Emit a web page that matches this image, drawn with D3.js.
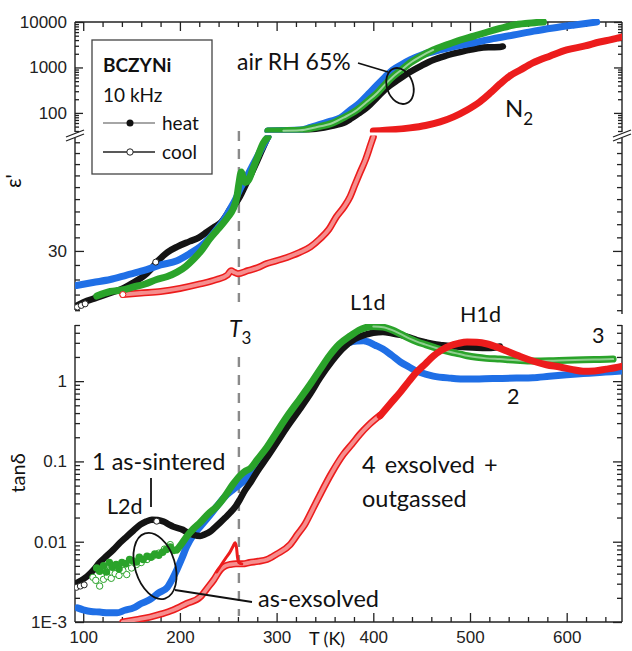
<!DOCTYPE html>
<html><head><meta charset="utf-8">
<script src="https://cdn.jsdelivr.net/npm/d3@7/dist/d3.min.js"></script>
<style>
html,body{margin:0;padding:0;background:#fff;}
svg{display:block;}
</style></head>
<body>
<svg id="chart" width="632" height="651"></svg>
<script>
// ---------------- DATA ----------------
const xMajorTicks = [100, 200, 300, 400, 500, 600];
const xMinorTicks = [100,120,140,160,180,200,220,240,260,280,300,320,340,360,380,400,420,440,460,480,500,520,540,560,580,600,620,640];
const epsHighTickValues = [100, 1000, 10000];
const epsHighTickLabels = ["100", "1000", "10000"];
const epsLowTickValues = [30];
const epsLowTickLabels = ["30"];
const epsLowMinor = [26,27,28,29,31,32,33,34,35,36,37,38,39];
const tanTickValues = [0.001, 0.01, 0.1, 1];
const tanTickLabels = ["1E-3", "0.01", "0.1", "1"];
const T3 = 261;

// epsilon' (top panel) [T (K), eps']
const epsBlack = [[94,26.3],[100,26.5],[114,26.8],[128,27.1],[141,27.4],[152,27.8],[162,28.2],[170,28.7],[176,29.2],[182,29.6],[187,29.9],[197,30.3],[210,30.7],[220,31.0],[228,31.4],[236,31.8],[242,32.1],[248,32.7],[252,33.2],[258,33.7],[262,34.2],[268,35.2],[273,36.0],[279,37.1],[285,38.3],[291,39.5],
  [291,40],[310,40.6],[324,41.2],[335,43],[344,46],[355,51],[362,55],[369,60],[377,75],[385,98],[394,135],[404,220],[414,354],[426,540],[438,796],[450,1100],[462,1462],[474,1780],[486,2084],[498,2400],[510,2683],[520,2780],[531,2822],[534,2900]];
const epsBlue = [[93,27.6],[110,27.8],[128,28.0],[145,28.3],[162,28.6],[180,29.0],[197,29.3],[210,29.8],[221,30.3],[230,30.9],[238,31.6],[245,32.3],[252,33.2],[257,33.9],[262,34.8],[268,35.7],[273,36.5],[279,37.5],[285,38.5],[291,39.5],
  [291,40],[305,40.8],[324,42],[335,48],[345,56],[356,66],[366,78],[376,115],[386,166],[395,260],[404,412],[412,610],[420,881],[429,1150],[438,1462],[452,1950],[469,2427],[486,2950],[503,3455],[524,4300],[545,5176],[566,6300],[586,7379],[608,8600],[631,10000]];
const epsGreen = [[114,26.9],[128,27.2],[140,27.3],[152,27.5],[164,27.7],[176,28.0],[187,28.2],[197,28.5],[206,28.9],[214,29.4],[223,30.1],[231,30.9],[238,31.5],[245,32.1],[250,32.6],[255,33.2],[259,34.2],[261,35.3],[263.5,36.3],[265.5,35.8],[267.5,35.4],[271,35.6],[276,36.7],[281,37.8],[286,38.9],[291,39.5],
  [291,40],[307,40.6],[324,41.5],[340,48],[358,60],[370,80],[383,116],[394,180],[404,275],[412,420],[420,618],[429,880],[438,1256],[450,1800],[462,2427],[476,3150],[490,4018],[504,4900],[518,6026],[531,7200],[545,8590],[560,9400],[576,10000]];
const epsRedCool = [[141,27.0],[160,27.1],[180,27.2],[200,27.4],[221,27.7],[238,28.0],[249,28.3],[253,28.6],[256,28.5],[260,28.4],[270,28.6],[280,28.8],[290,29.1],[305,29.4],[324,29.9],[335,30.3],[345,30.9],[354,31.6],[362,32.6],[370,33.4],[376,34.2],[381,35.2],[386,36.2],[392,37.4],[397,38.7],[400,39.5]];
const epsRedHeat = [[400,40],[407,40.5],[420,42.5],[438,46.8],[454,53],[469,63.4],[483,82],[497,116],[510,174],[521,275],[531,433],[541,648],[552,881],[565,1256],[583,1790],[600,2427],[619,2971],[634,3631],[646,4100],[657,4677]];
const epsBlackCoolDots = [[94,26.2],[98,26.3],[102,26.4],[175,29.2]];
const epsRedCoolDots = [[141,27.0]];

// tan delta (bottom panel) [T (K), tan d]
const tanBlack = [[94,.0031],[104,.0037],[111,.0045],[117,.0055],[124,.0066],[131,.0079],[138,.0097],[145,.0116],[152,.0138],[159,.0163],[165,.0178],[171,.0188],[177,.0186],[183,.0178],[188,.0166],[193,.0154],[203,.0141],[208,.0130],[214,.0122],[221,.0118],[226,.0124],[231,.0133],[236,.0150],[241.6,.0173],[247,.0200],[252,.023],[258,.028],[262,.0335],[267,.043],[273,.0546],[280,.075],[290,.112],[300,.17],[312,.28],[324,.447],[335,.70],[345,1.10],[357,1.75],[368,2.51],[381,3.35],[391,3.76],[400,4.0],[410,4.1],[419,3.95],[428,3.76],[437,3.5],[445,3.25],[454,3.05],[462,2.9],[471,2.8],[480,2.72],[489,2.68],[497,2.64],[507,2.6],[517,2.58],[526,2.62],[531,2.7]];
const tanBlue = [[94,.0015],[100,.00142],[108,.00135],[117,.00133],[126,.0013],[135,.0013],[143,.0014],[152,.0015],[160,.0017],[169,.0019],[178,.0023],[187,.0027],[192,.0034],[197,.0045],[202,.0062],[207,.0087],[214,.0122],[221,.0154],[229,.020],[238,.0274],[246,.036],[255,.0447],[262,.052],[268,.06],[278,.084],[290,.13],[300,.19],[312,.31],[324,.50],[335,.80],[345,1.30],[355,1.9],[365,2.5],[374,2.98],[383,3.16],[390,3.18],[394,3.1],[402,2.8],[410,2.51],[419,2.1],[428,1.73],[437,1.5],[445,1.33],[454,1.22],[462,1.155],[480,1.09],[497,1.06],[515,1.07],[531,1.08],[548,1.09],[565,1.10],[582,1.15],[600,1.20],[617,1.24],[634,1.28],[646,1.31],[658,1.34]];
const tanGreen = [[197,.0079],[202,.0095],[207,.0116],[214,.0145],[221,.0173],[229,.022],[238,.0274],[246,.036],[255,.052],[262,.066],[268,.076],[273,.082],[280,.105],[290,.15],[300,.23],[312,.38],[324,.60],[335,.92],[345,1.4],[355,2.1],[365,2.9],[376,3.65],[385,4.3],[392,4.65],[400,4.8],[410,4.7],[419,4.35],[428,3.87],[437,3.4],[445,3.1],[454,2.85],[462,2.65],[471,2.45],[480,2.3],[489,2.18],[497,2.07],[507,1.98],[517,1.92],[531,1.88],[548,1.82],[565,1.78],[582,1.79],[600,1.82],[617,1.84],[634,1.86],[648,1.88]];
const tanGreenHeatDots = [[114,.0047],[117,.0043],[121,.0050],[124,.0042],[127,.0055],[130,.0048],[134,.0052],[137,.0046],[140,.0055],[144,.0053],[148,.0060],[151,.0058],[155,.0056],[158,.0064],[162,.0060],[166,.0066],[170,.0064],[174,.0070],[178,.0068],[182,.0074],[186,.0080],[190,.0086],[194,.0078]];
const tanGreenCoolDots = [[110,.0036],[113,.0033],[117,.0028],[121,.0034],[125,.0037],[129,.0035],[133,.0040],[137,.0038],[141,.0044],[145,.0039],[150,.0047],[155,.0052],[160,.0055],[166,.0060],[172,.0066],[178,.0072],[184,.0081],[190,.0092]];
const tanBlackCoolDots = [[93,.0027],[97,.0028],[101,.0029],[176,.0180]];
const tanRedCool = [[141,.00100],[155,.00107],[169,.00115],[181,.00126],[193,.00141],[207,.00170],[221,.00205],[229,.0027],[235,.00335],[242,.0045],[247,.0050],[252,.0052],[258,.0053],[265,.0053],[272,.0055],[281,.0057],[290,.0060],[300,.0070],[314,.0092],[322,.0125],[329,.0163],[337,.025],[345,.0387],[357,.072],[369,.122],[378,.165],[386,.217],[396,.29],[407,.376]];
const tanRedSpike = [[238,.0042],[243,.0052],[248,.0064],[252,.0075],[255,.0088],[257,.0097],[258.5,.0085],[259.5,.0065],[261,.0055],[264,.0053]];
const tanRedHeat = [[407,.37],[418,.53],[428,.729],[437,1.0],[445,1.30],[454,1.65],[462,2.05],[471,2.45],[479,2.74],[488,2.95],[497,3.07],[507,3.05],[518,2.9],[528,2.65],[538,2.37],[551,2.05],[565,1.78],[579,1.6],[593,1.50],[605,1.4],[617,1.33],[629,1.34],[641,1.41],[650,1.47],[658,1.54]];

// ---------------- LAYOUT ----------------
const C = {black:"#141414", blue:"#1f6fe6", green:"#2aa32a", red:"#ec1c1c"};
const svg = d3.select("#chart");
const L = 75, R = 622;
const x = d3.scaleLinear().domain([91.5, 657.2]).range([L, R]);
const yHigh = d3.scaleLog().domain([40, 10000]).range([131, 22]);
const yLow = d3.scaleLog().domain([25.7, 39.5]).range([315, 137]);
const yTan = d3.scaleLog().domain([0.001, 5]).range([622, 325]);
const tickFont = "'Liberation Sans', Arial, sans-serif";
const annFont = "Lato, 'Open Sans', sans-serif";

const defs = svg.append("defs");
function clip(id, y0, y1){ defs.append("clipPath").attr("id", id).append("rect").attr("x", L).attr("y", y0).attr("width", R-L).attr("height", y1-y0); }
clip("cHigh", 19, 132.5);
clip("cLow", 135.5, 312);
clip("cTan", 324, 622);

function styleAxis(g){ g.select(".domain").remove(); g.selectAll("line").attr("stroke","#222").attr("stroke-width",1.3); g.selectAll("text").attr("font-family",tickFont).attr("font-size",17).attr("fill","#222"); }
function logMinor(lo, hi){ const out=[]; for(let e=-4;e<=5;e++){ for(let m=2;m<=9;m++){ const v=m*Math.pow(10,e); if(v>=lo*0.999 && v<=hi*1.001) out.push(v);} } return out; }

// ---- top panel frame & axes ----
svg.append("g").attr("transform",`translate(0,22)`).call(d3.axisTop(x).tickValues(xMajorTicks).tickSize(-9).tickFormat("")).call(styleAxis);
svg.append("g").attr("transform",`translate(0,22)`).call(d3.axisTop(x).tickValues(xMinorTicks.filter(v=>!xMajorTicks.includes(v))).tickSize(-5).tickFormat("")).call(styleAxis);
[[L, d3.axisLeft, -1],[R, d3.axisRight, 1]].forEach(([xx, ax, s])=>{
  const lab = s<0;
  svg.append("g").attr("transform",`translate(${xx},0)`).call(ax(yHigh).tickValues(epsHighTickValues).tickSize(-8).tickPadding(8).tickFormat((d,i)=> lab? epsHighTickLabels[i] : "")).call(styleAxis);
  svg.append("g").attr("transform",`translate(${xx},0)`).call(ax(yHigh).tickValues(logMinor(40,10000)).tickSize(-4).tickFormat("")).call(styleAxis);
  svg.append("g").attr("transform",`translate(${xx},0)`).call(ax(yLow).tickValues(epsLowTickValues).tickSize(-9).tickPadding(8).tickFormat((d,i)=> lab? epsLowTickLabels[i] : "")).call(styleAxis);
  svg.append("g").attr("transform",`translate(${xx},0)`).call(ax(yLow).tickValues(epsLowMinor).tickSize(-5).tickFormat("")).call(styleAxis);
  svg.append("line").attr("x1",xx).attr("x2",xx).attr("y1",22).attr("y2",132).attr("stroke","#222").attr("stroke-width",1.4);
  svg.append("line").attr("x1",xx).attr("x2",xx).attr("y1",138).attr("y2",s<0?310:314).attr("stroke","#222").attr("stroke-width",1.4);
  svg.append("line").attr("x1",xx-9).attr("y1",137).attr("x2",xx+9).attr("y2",130).attr("stroke","#222").attr("stroke-width",1.3);
  svg.append("line").attr("x1",xx-9).attr("y1",141).attr("x2",xx+9).attr("y2",134).attr("stroke","#222").attr("stroke-width",1.3);
});
svg.append("line").attr("x1",L).attr("x2",R).attr("y1",22).attr("y2",22).attr("stroke","#222").attr("stroke-width",1.4);

// ---- bottom panel axes ----
svg.append("g").attr("transform",`translate(0,622)`).call(d3.axisBottom(x).tickValues(xMajorTicks).tickSize(-9).tickPadding(9)).call(styleAxis);
svg.append("g").attr("transform",`translate(0,622)`).call(d3.axisBottom(x).tickValues(xMinorTicks.filter(v=>!xMajorTicks.includes(v))).tickSize(-5).tickFormat("")).call(styleAxis);
[[L, d3.axisLeft, true],[R, d3.axisRight, false]].forEach(([xx, ax, lab])=>{
  svg.append("g").attr("transform",`translate(${xx},0)`).call(ax(yTan).tickValues(tanTickValues).tickSize(-9).tickPadding(8).tickFormat((d,i)=> lab? tanTickLabels[i] : "")).call(styleAxis);
  svg.append("g").attr("transform",`translate(${xx},0)`).call(ax(yTan).tickValues(logMinor(0.001,5)).tickSize(-5).tickFormat("")).call(styleAxis);
  svg.append("line").attr("x1",xx).attr("x2",xx).attr("y1",325).attr("y2",622).attr("stroke","#222").attr("stroke-width",1.4);
});
svg.append("line").attr("x1",L).attr("x2",R).attr("y1",622).attr("y2",622).attr("stroke","#222").attr("stroke-width",1.4);

// T3 dashed line
[[131,302],[357,616]].forEach(([a,b])=>{
  svg.append("line").attr("x1",x(T3)).attr("x2",x(T3)).attr("y1",a).attr("y2",b).attr("stroke","#8a8a8a").attr("stroke-width",2.4).attr("stroke-dasharray","10,8");
});

// ---- data drawing ----
const gHigh = svg.append("g").attr("clip-path","url(#cHigh)");
const gLow = svg.append("g").attr("clip-path","url(#cLow)");
const gTan = svg.append("g").attr("clip-path","url(#cTan)");

function path(g, data, ys, color, w, cool){
  const line = d3.line().x(d=>x(d[0])).y(d=>ys(d[1])).curve(d3.curveMonotoneX);
  g.append("path").datum(data).attr("d",line).attr("fill","none").attr("stroke",color).attr("stroke-width",w).attr("stroke-linecap","round").attr("stroke-linejoin","round");
  if(cool) g.append("path").datum(data).attr("d",line).attr("fill","none").attr("stroke","#fff").attr("stroke-opacity",0.5).attr("stroke-width",w*0.55).attr("stroke-linecap","round");
}
function eps(data, color, w, cool){
  const lo = data.filter(d=>d[1]<=39.5), hi = data.filter(d=>d[1]>=40);
  if(lo.length>1) path(gLow, lo, yLow, color, w, cool);
  if(hi.length>1) path(gHigh, hi, yHigh, color, w, cool);
}
function dots(g, data, ys, color, r, open){
  g.selectAll(null).data(data).enter().append("circle").attr("cx",d=>x(d[0])).attr("cy",d=>ys(d[1])).attr("r",r)
    .attr("fill",open?"#fff":color).attr("stroke",open?color:"none").attr("stroke-width",1);
}

// top panel
eps(epsRedCool, C.red, 7, true);
eps(epsRedHeat, C.red, 7, false);
eps(epsBlack, C.black, 6.5, false);
eps(epsBlue, C.blue, 7, false);
eps(epsGreen, C.green, 7, false);
path(gHigh, epsGreen.filter(d=>d[1]>=40 && d[0]>=300 && d[0]<=470), yHigh, "#9ad49a", 2, false);
dots(gLow, epsBlackCoolDots, yLow, "#222", 3, true);
dots(gLow, epsRedCoolDots, yLow, C.red, 3, true);

// bottom panel
path(gTan, tanRedCool, yTan, C.red, 7, true);
path(gTan, tanRedSpike, yTan, C.red, 3, false);
path(gTan, tanBlue, yTan, C.blue, 7, false);
path(gTan, tanBlack, yTan, C.black, 6.5, false);
path(gTan, tanGreen, yTan, C.green, 7, false);
path(gTan, tanGreen.filter(d=>d[0]>=400), yTan, "#8fce8f", 2, false);
path(gTan, tanRedHeat, yTan, C.red, 7, false);
path(gTan, tanGreenHeatDots, yTan, C.green, 1, false);
dots(gTan, tanGreenCoolDots, yTan, C.green, 3.2, true);
dots(gTan, tanGreenHeatDots, yTan, C.green, 3.8, false);
dots(gTan, tanBlackCoolDots, yTan, "#222", 3, true);

// ---- legend ----
const lg = svg.append("g");
lg.append("rect").attr("x",92).attr("y",40).attr("width",120).attr("height",134).attr("fill","#fff").attr("stroke","#444").attr("stroke-width",1.3);
lg.append("text").attr("x",103).attr("y",72).text("BCZYNi").attr("font-family",annFont).attr("font-weight","bold").attr("font-size",19).attr("fill","#111");
lg.append("text").attr("x",103).attr("y",102).text("10 kHz").attr("font-family",annFont).attr("font-size",19).attr("fill","#111");
lg.append("line").attr("x1",103).attr("x2",155).attr("y1",123).attr("y2",123).attr("stroke","#888").attr("stroke-width",1.5);
lg.append("circle").attr("cx",130).attr("cy",123).attr("r",3.5).attr("fill","#111");
lg.append("text").attr("x",162).attr("y",130).text("heat").attr("font-family",annFont).attr("font-size",19).attr("fill","#111");
lg.append("line").attr("x1",103).attr("x2",155).attr("y1",152).attr("y2",152).attr("stroke","#222").attr("stroke-width",1.3);
lg.append("circle").attr("cx",130).attr("cy",152).attr("r",3.2).attr("fill","#fff").attr("stroke","#222");
lg.append("text").attr("x",162).attr("y",159).text("cool").attr("font-family",annFont).attr("font-size",19).attr("fill","#111");

// ---- annotations ----
function ann(tx, ty, s, size, anchor){ return svg.append("text").attr("x",tx).attr("y",ty).text(s).attr("font-family",annFont).attr("font-size",size||21).attr("fill","#111").attr("text-anchor",anchor||"start"); }
ann(237, 70, "air RH 65%", 23);
svg.append("line").attr("x1",358).attr("y1",63).attr("x2",388).attr("y2",72).attr("stroke","#111").attr("stroke-width",1.8);
svg.append("ellipse").attr("cx",400).attr("cy",86).attr("rx",13).attr("ry",18.5).attr("transform","rotate(-20 400 86)").attr("fill","none").attr("stroke","#111").attr("stroke-width",1.8);
const n2 = ann(505, 117, "N", 24); n2.append("tspan").attr("dy",8).attr("font-size",17).text("2");
ann(350, 310, "L1d", 21.5);
ann(460, 322, "H1d", 21.5);
ann(592, 343, "3", 21.5);
ann(507, 404, "2", 21.5);
const t3 = svg.append("text").attr("x",229).attr("y",337).attr("font-family",annFont).attr("font-size",23).attr("fill","#111");
t3.append("tspan").attr("font-style","italic").text("T");
t3.append("tspan").attr("dy",7).attr("font-size",17).text("3");
ann(92, 470, "1 as-sintered", 23.5);
svg.append("line").attr("x1",151).attr("x2",151).attr("y1",478).attr("y2",507).attr("stroke","#111").attr("stroke-width",1.8);
ann(107, 514, "L2d", 21.5);
svg.append("ellipse").attr("cx",155).attr("cy",566).attr("rx",20).attr("ry",34).attr("transform","rotate(-17 155 566)").attr("fill","none").attr("stroke","#111").attr("stroke-width",1.8);
svg.append("line").attr("x1",175).attr("y1",590).attr("x2",252).attr("y2",602).attr("stroke","#111").attr("stroke-width",1.8);
ann(258, 607, "as-exsolved", 23.5);
ann(362, 473, "4 exsolved +", 23.5).attr("word-spacing", 3);
ann(362, 507, "outgassed", 23.5);

// axis titles
svg.append("text").attr("transform","translate(21,181) rotate(-90)").attr("text-anchor","middle").attr("font-family",annFont).attr("font-size",21).attr("fill","#111").text("ε'");
svg.append("text").attr("transform","translate(25,473) rotate(-90)").attr("text-anchor","middle").attr("font-family",annFont).attr("font-size",20).attr("fill","#111").text("tanδ");
svg.append("text").attr("x",327).attr("y",645).attr("text-anchor","middle").attr("font-family",annFont).attr("font-size",18).attr("fill","#111").text("T (K)");
</script>
</body></html>
